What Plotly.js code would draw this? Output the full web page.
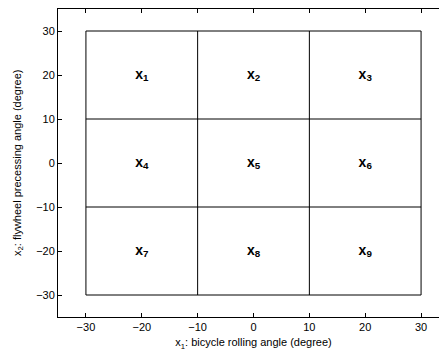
<!DOCTYPE html>
<html>
<head>
<meta charset="utf-8">
<script src="https://cdn.plot.ly/plotly-3.0.1.min.js"></script>
<style>
html, body { margin:0; padding:0; overflow:hidden; background:#fff; }
#chart { width:460px; height:354px; }
</style>
</head>
<body>
<div id="chart"></div>
<script>
// Region boundaries (degrees)
var boundaries = [-30, -10, 10, 30];
// Region labels and their centres
var regionNames = ['1','2','3','4','5','6','7','8','9'];
var regionX = [-20, 0, 20, -20, 0, 20, -20, 0, 20];
var regionY = [20, 20, 20, 0, 0, 0, -20, -20, -20];
var tickVals = [-30, -20, -10, 0, 10, 20, 30];
var xTitle = 'x<sub>1</sub>: bicycle rolling angle (degree)';
var yTitle = 'x<sub>2</sub>: flywheel precessing angle (degree)';

var traces = [];
var lo = boundaries[0], hi = boundaries[boundaries.length - 1];
boundaries.forEach(function (b) {
  traces.push({x: [b, b], y: [lo, hi], mode: 'lines', line: {color: '#000', width: 1}, hoverinfo: 'skip', showlegend: false});
  traces.push({x: [lo, hi], y: [b, b], mode: 'lines', line: {color: '#000', width: 1}, hoverinfo: 'skip', showlegend: false});
});
traces.push({
  x: regionX, y: regionY, mode: 'text',
  text: regionNames.map(function (n) { return '<b>x<sub>' + n + '</sub></b>'; }),
  textposition: 'middle center',
  textfont: {family: 'Liberation Sans, Arial, sans-serif', size: 14, color: '#000'},
  hoverinfo: 'skip', showlegend: false
});

var font11 = {family: 'Liberation Sans, Arial, sans-serif', size: 11, color: '#000'};
var axisCommon = {
  showgrid: false, zeroline: false,
  showline: true, linecolor: '#000', linewidth: 1, mirror: 'ticks',
  ticks: 'inside', ticklen: 4, tickcolor: '#000', tickwidth: 1,
  tickvals: tickVals,
  tickfont: font11
};

var layout = {
  width: 460, height: 354,
  margin: {l: 58, r: 11, t: 9, b: 37},
  paper_bgcolor: '#fff', plot_bgcolor: '#fff',
  showlegend: false,
  xaxis: Object.assign({}, axisCommon, {
    range: [-35, 35],
    title: {text: xTitle, standoff: 6, font: font11}
  }),
  yaxis: Object.assign({}, axisCommon, {
    range: [-35, 35]
  }),
  annotations: [{
    text: yTitle, textangle: -90, font: font11,
    xref: 'paper', yref: 'paper', x: 0, y: 0.5,
    xanchor: 'center', yanchor: 'middle', xshift: -40, showarrow: false
  }]
};

Plotly.newPlot('chart', traces, layout, {displayModeBar: false, staticPlot: true});
</script>
</body>
</html>
